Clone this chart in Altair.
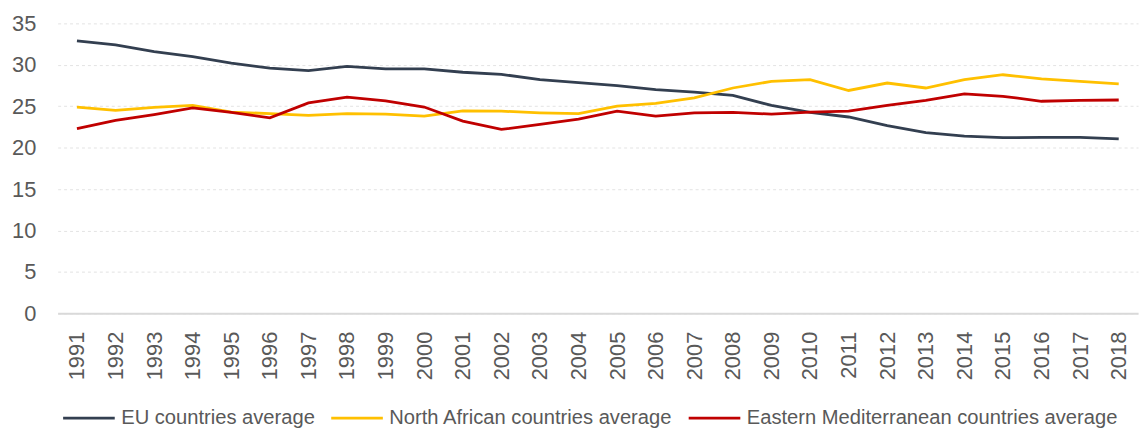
import altair as alt
import pandas as pd

years = [str(y) for y in range(1991, 2019)]
eu = [32.9, 32.4, 31.6, 31.0, 30.2, 29.6, 29.3, 29.8, 29.5, 29.5, 29.1, 28.85, 28.2, 27.85,
      27.5, 27.0, 26.7, 26.3, 25.1, 24.25, 23.7, 22.65, 21.8, 21.4, 21.2, 21.25, 21.25, 21.05]
north_africa = [24.9, 24.5, 24.85, 25.1, 24.3, 24.1, 23.9, 24.1, 24.05, 23.8, 24.45, 24.4, 24.2, 24.1,
                25.0, 25.35, 26.0, 27.2, 28.0, 28.2, 26.9, 27.8, 27.2, 28.2, 28.8, 28.3, 28.0, 27.7]
east_med = [22.3, 23.3, 24.0, 24.8, 24.25, 23.6, 25.4, 26.1, 25.65, 24.9, 23.2, 22.2, 22.8, 23.45,
            24.4, 23.8, 24.2, 24.25, 24.05, 24.3, 24.4, 25.1, 25.7, 26.5, 26.2, 25.6, 25.7, 25.75]
series_names = ["EU countries average", "North African countries average",
                "Eastern Mediterranean countries average"]
series_colors = ["#333F50", "#FFC000", "#C00000"]

rows = []
for name, vals in zip(series_names, [eu, north_africa, east_med]):
    for y, v in zip(years, vals):
        rows.append({"Year": y, "Value": v, "Series": name})
df = pd.DataFrame(rows)

font = "Liberation Sans"

chart = alt.Chart(df).mark_line(strokeWidth=2.8).encode(
    x=alt.X("Year:O", sort=years, title=None,
            axis=alt.Axis(labelAngle=270, labelFontSize=22, labelColor="#595959", labelFont=font,
                          ticks=False, domainColor="#D9D9D9", domainWidth=2, labelPadding=18,
                          grid=False)),
    y=alt.Y("Value:Q", title=None, scale=alt.Scale(domain=[0, 35], nice=False),
            axis=alt.Axis(values=[0, 5, 10, 15, 20, 25, 30, 35], labelFontSize=22,
                          labelColor="#595959", labelFont=font, ticks=False, domain=False,
                          labelPadding=22, gridColor="#E3E3E3", gridDash=[3, 3], gridWidth=1)),
    color=alt.Color("Series:N", sort=series_names,
                    scale=alt.Scale(domain=series_names, range=series_colors),
                    legend=alt.Legend(title=None, orient="none", direction="horizontal",
                                      legendX=4, legendY=370, symbolType="stroke",
                                      symbolSize=2704, symbolStrokeWidth=2.8, labelFontSize=20.3,
                                      labelColor="#595959", labelFont=font, columnPadding=9,
                                      labelOffset=5, labelLimit=0)),
).properties(
    width=1088, height=292,
    autosize=alt.AutoSizeParams(type="none"),
    padding={"left": 50, "top": 14, "right": 2, "bottom": 116},
).configure_view(stroke=None)

chart.save("out.html", embed_options={"renderer": "svg", "actions": False})
